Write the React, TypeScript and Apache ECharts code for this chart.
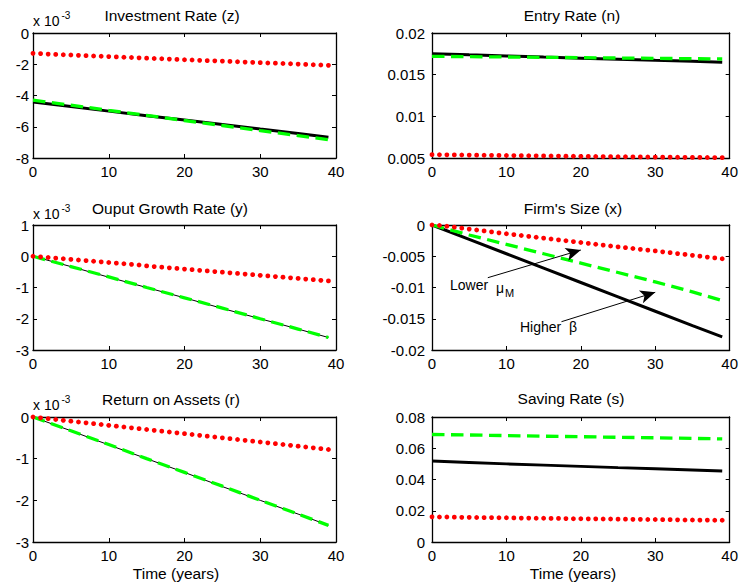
import React, { useEffect, useRef } from "react";
import * as echarts from "echarts";

// ---------- data ----------
const YEARS = [0, 1, 2, 3, 4, 5, 6, 7, 8, 9, 10, 11, 12, 13, 14, 15, 16, 17, 18, 19, 20, 21, 22, 23, 24, 25, 26, 27, 28, 29, 30, 31, 32, 33, 34, 35, 36, 37, 38, 39];
const LINE_YEARS = [0, 5, 10, 15, 20, 25, 30, 35, 39];
const X_TICKS = [0, 10, 20, 30, 40];

// Investment Rate (z), units of 1e-3
const zBlack = [-4.42, -4.71, -5.0, -5.29, -5.57, -5.86, -6.15, -6.43, -6.67];
const zGreen = [-4.3, -4.62, -4.95, -5.27, -5.6, -5.92, -6.25, -6.57, -6.83];
const zRed = [-1.3, -1.32, -1.35, -1.37, -1.39, -1.41, -1.43, -1.45, -1.47, -1.49, -1.51, -1.53, -1.55, -1.57, -1.59, -1.61, -1.63, -1.65, -1.67, -1.69, -1.71, -1.73, -1.75, -1.77, -1.78, -1.8, -1.82, -1.84, -1.86, -1.88, -1.9, -1.92, -1.93, -1.95, -1.97, -1.99, -2.01, -2.03, -2.05, -2.07];

// Entry Rate (n)
const nBlack = [0.01752, 0.01738, 0.01725, 0.01711, 0.01698, 0.01685, 0.01672, 0.0166, 0.01648];
const nGreen = [0.0172, 0.01716, 0.01712, 0.01708, 0.01704, 0.017, 0.01696, 0.01692, 0.01688];
const nRed = [0.0054, 0.00539, 0.00538, 0.00537, 0.00536, 0.00535, 0.00534, 0.00533, 0.00532, 0.00531, 0.0053, 0.00529, 0.00528, 0.00527, 0.00526, 0.00525, 0.00524, 0.00523, 0.00522, 0.00521, 0.0052, 0.00519, 0.00518, 0.00517, 0.00516, 0.00515, 0.00515, 0.00514, 0.00513, 0.00512, 0.00511, 0.0051, 0.0051, 0.00509, 0.00508, 0.00507, 0.00507, 0.00506, 0.00505, 0.00505];

// Output Growth Rate (y), units of 1e-3
const yBlack = [0, -0.33, -0.67, -1.0, -1.33, -1.67, -2.0, -2.33, -2.6];
const yGreen = [0, -0.33, -0.66, -1.0, -1.33, -1.66, -2.0, -2.33, -2.6];
const yRed = [0, -0.02, -0.04, -0.06, -0.08, -0.1, -0.12, -0.14, -0.16, -0.18, -0.2, -0.22, -0.24, -0.26, -0.28, -0.31, -0.33, -0.35, -0.37, -0.39, -0.41, -0.43, -0.45, -0.47, -0.49, -0.51, -0.53, -0.55, -0.57, -0.59, -0.61, -0.63, -0.65, -0.67, -0.69, -0.71, -0.73, -0.75, -0.77, -0.79];

// Firm's Size (x)
const xBlack = [0, -0.0023, -0.0046, -0.0069, -0.0092, -0.0115, -0.0138, -0.0161, -0.0179];
const xGreen = [0, -0.0016, -0.0031, -0.0046, -0.0061, -0.0076, -0.0091, -0.0107, -0.0121];
const xRed = [0, -0.00008, -0.0002, -0.00035, -0.0005, -0.00065, -0.0008, -0.00095, -0.0011, -0.00125, -0.0014, -0.00154, -0.00168, -0.00182, -0.00196, -0.0021, -0.00224, -0.00238, -0.00252, -0.00266, -0.0028, -0.00294, -0.00308, -0.00322, -0.00336, -0.0035, -0.00363, -0.00376, -0.00389, -0.00402, -0.00415, -0.00429, -0.00443, -0.00457, -0.00471, -0.00485, -0.00499, -0.00513, -0.00527, -0.0054];

// Return on Assets (r), units of 1e-3
const rBlack = [0, -0.33, -0.67, -1.0, -1.33, -1.67, -2.0, -2.33, -2.6];
const rGreen = [0, -0.33, -0.66, -1.0, -1.33, -1.66, -2.0, -2.33, -2.6];
const rRed = [0, -0.02, -0.04, -0.06, -0.08, -0.1, -0.12, -0.14, -0.16, -0.18, -0.2, -0.22, -0.24, -0.26, -0.28, -0.3, -0.32, -0.34, -0.36, -0.38, -0.4, -0.42, -0.44, -0.46, -0.48, -0.5, -0.52, -0.54, -0.56, -0.58, -0.6, -0.62, -0.64, -0.66, -0.68, -0.7, -0.72, -0.74, -0.76, -0.78];

// Saving Rate (s)
const sBlack = [0.0518, 0.0509, 0.05, 0.0492, 0.0484, 0.0476, 0.0469, 0.0461, 0.0454];
const sGreen = [0.0688, 0.0685, 0.0681, 0.0677, 0.0674, 0.067, 0.0667, 0.0663, 0.066];
const sRed = [0.0161, 0.016, 0.016, 0.0159, 0.0158, 0.0158, 0.0157, 0.0156, 0.0156, 0.0155, 0.0155, 0.0154, 0.0153, 0.0153, 0.0152, 0.0152, 0.0151, 0.0151, 0.015, 0.0149, 0.0149, 0.0148, 0.0148, 0.0147, 0.0147, 0.0146, 0.0146, 0.0145, 0.0145, 0.0144, 0.0144, 0.0143, 0.0143, 0.0142, 0.0141, 0.0141, 0.014, 0.014, 0.0139, 0.0139];

const TITLES = ["Investment Rate (z)", "Entry Rate (n)", "Ouput Growth Rate (y)", "Firm's Size (x)", "Return on Assets (r)", "Saving Rate (s)"];
const X_LABEL = "Time (years)";

// arrows in Firm's Size panel (data coordinates)
const ARROW_MU = [[7.5, -0.00843], [20, -0.004]];
const ARROW_BETA = [[17.4, -0.01547], [30, -0.01077]];

// ---------- layout ----------
const FONT = "'Liberation Sans', Arial, Helvetica, sans-serif";
const GRIDS = [
  { left: 33, top: 33, width: 303, height: 125 },
  { left: 432, top: 33, width: 300, height: 125 },
  { left: 33, top: 225, width: 303, height: 125 },
  { left: 432, top: 225, width: 300, height: 125 },
  { left: 33, top: 417, width: 303, height: 125 },
  { left: 432, top: 417, width: 300, height: 125 },
];

const PANELS = [
  { black: zBlack, green: zGreen, red: zRed, min: -8, max: 0, interval: 2, bw: 3, tx: 172, ty: 15, scale: true },
  { black: nBlack, green: nGreen, red: nRed, min: 0.005, max: 0.02, interval: 0.005, bw: 3, tx: 572, ty: 15, scale: false },
  { black: yBlack, green: yGreen, red: yRed, min: -3, max: 1, interval: 1, bw: 1, tx: 170, ty: 208, scale: true },
  { black: xBlack, green: xGreen, red: xRed, min: -0.02, max: 0, interval: 0.005, bw: 3, tx: 573, ty: 208, scale: false },
  { black: rBlack, green: rGreen, red: rRed, min: -3, max: 0, interval: 1, bw: 1, tx: 171, ty: 399, scale: true },
  { black: sBlack, green: sGreen, red: sRed, min: 0, max: 0.08, interval: 0.02, bw: 3, tx: 571, ty: 398, scale: false },
];

const fmt = (v: number) => String(parseFloat(Number(v).toPrecision(6)));

export default function App() {
  const ref = useRef<HTMLDivElement>(null);
  useEffect(() => {
    document.body.style.margin = "0";
    if (!ref.current) return;
    const chart = echarts.init(ref.current, undefined, { renderer: "svg" });

    const xAxis: any[] = [];
    const yAxis: any[] = [];
    const series: any[] = [];
    const graphic: any[] = [];
    const axisLine = { show: true, onZero: false, lineStyle: { color: "#000", width: 1.3 } };
    const tick = { show: true, inside: true, length: 4, lineStyle: { color: "#000", width: 1 } };

    PANELS.forEach((p, i) => {
      const isLast = i >= 4;
      const isRight = i % 2 === 1;
      xAxis.push({
        type: "value", gridIndex: i, position: "bottom", min: X_TICKS[0], max: X_TICKS[X_TICKS.length - 1], interval: 10,
        axisLine, axisTick: tick, splitLine: { show: false },
        axisLabel: { show: true, color: "#000", fontFamily: FONT, fontSize: 15, margin: 6 },
      });
      xAxis.push({
        type: "value", gridIndex: i, position: "top", min: X_TICKS[0], max: X_TICKS[X_TICKS.length - 1], interval: 10,
        axisLine, axisTick: tick, splitLine: { show: false }, axisLabel: { show: false },
      });
      yAxis.push({
        type: "value", gridIndex: i, position: "left", min: p.min, max: p.max, interval: p.interval,
        axisLine, axisTick: tick, splitLine: { show: false },
        axisLabel: { show: true, color: "#000", fontFamily: FONT, fontSize: 15, margin: isRight ? 7 : 4, formatter: fmt },
      });
      yAxis.push({
        type: "value", gridIndex: i, position: "right", min: p.min, max: p.max, interval: p.interval,
        axisLine, axisTick: tick, splitLine: { show: false }, axisLabel: { show: false },
      });

      const blackSeries: any = {
        type: "line", xAxisIndex: 2 * i, yAxisIndex: 2 * i, showSymbol: false, symbol: "none",
        data: LINE_YEARS.map((t, j) => [t, p.black[j]]),
        lineStyle: { color: "#000", width: p.bw }, z: 2,
      };
      if (i === 3) {
        blackSeries.markLine = {
          silent: true, symbol: ["none", "arrow"], symbolSize: [10, 15], label: { show: false },
          lineStyle: { color: "#000", width: 1, type: "solid" },
          data: [
            [{ coord: ARROW_MU[0] }, { coord: ARROW_MU[1] }],
            [{ coord: ARROW_BETA[0] }, { coord: ARROW_BETA[1] }],
          ],
        };
      }
      series.push(blackSeries);
      series.push({
        type: "line", xAxisIndex: 2 * i, yAxisIndex: 2 * i, showSymbol: false, symbol: "none",
        data: LINE_YEARS.map((t, j) => [t, p.green[j]]),
        lineStyle: { color: "#00ff00", width: 3.3, type: [12.5, 6.5] }, z: 3,
      });
      series.push({
        type: "scatter", xAxisIndex: 2 * i, yAxisIndex: 2 * i, symbol: "circle", symbolSize: 4.8,
        data: YEARS.map((t, j) => [t, p.red[j]]),
        itemStyle: { color: "#ff0000", opacity: 1 }, z: 4,
      });

      graphic.push({
        type: "text", x: p.tx, y: p.ty,
        style: { text: TITLES[i], fontFamily: FONT, fontSize: 15.5, fill: "#000", textAlign: "center", textVerticalAlign: "middle" },
      });
      if (p.scale) {
        const g = GRIDS[i];
        graphic.push({
          type: "text", x: g.left, y: p.ty + 5.5,
          style: { text: "x 10", fontFamily: FONT, fontSize: 14, fill: "#000", textAlign: "left", textVerticalAlign: "middle" },
        });
        graphic.push({
          type: "text", x: g.left + 28.5, y: p.ty + 0,
          style: { text: "-3", fontFamily: FONT, fontSize: 10, fill: "#000", textAlign: "left", textVerticalAlign: "middle" },
        });
      }
      if (isLast) {
        graphic.push({
          type: "text", x: isRight ? 573 : 176, y: 573,
          style: { text: X_LABEL, fontFamily: FONT, fontSize: 15.5, fill: "#000", textAlign: "center", textVerticalAlign: "middle" },
        });
      }
    });

    // annotations in Firm's Size panel
    const ann = (text: string, x: number, y: number, size: number) => ({
      type: "text", x, y,
      style: { text, fontFamily: FONT, fontSize: size, fill: "#000", textAlign: "left", textVerticalAlign: "middle" },
    });
    graphic.push(ann("Lower", 450, 285, 14));
    graphic.push(ann("\u03bc", 496, 288, 14));
    graphic.push(ann("M", 505, 293, 11));
    graphic.push(ann("Higher", 520, 327, 14));
    graphic.push(ann("\u03b2", 569, 327, 14));

    chart.setOption({
      animation: false,
      backgroundColor: "#fff",
      grid: GRIDS.map((g) => ({ ...g, containLabel: false })),
      xAxis,
      yAxis,
      series,
      graphic,
    });
    return () => chart.dispose();
  }, []);
  return <div ref={ref} style={{ width: 741, height: 586 }} />;
}
